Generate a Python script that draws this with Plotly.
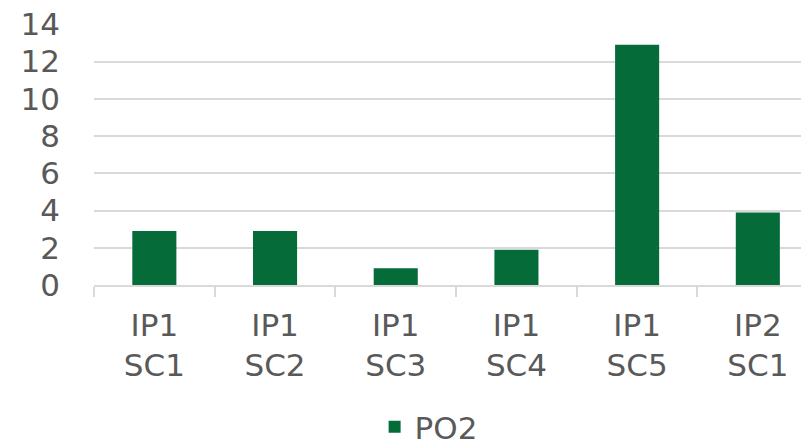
import plotly.graph_objects as go

categories = ["IP1<br>SC1", "IP1<br>SC2", "IP1<br>SC3", "IP1<br>SC4", "IP1<br>SC5", "IP2<br>SC1"]
po2_values = [2.9, 2.9, 0.9, 1.9, 12.9, 3.9]
y_ticks = [0, 2, 4, 6, 8, 10, 12, 14]

GREEN = "#056B38"
TEXT = "#595959"
GRID = "#D9D9D9"
FONT = "DejaVu Sans, Verdana, sans-serif"
FS = 31

fig = go.Figure()
fig.add_trace(go.Bar(
    x=categories, y=po2_values, name="PO2",
    marker=dict(color=GREEN, line=dict(width=0)),
    width=0.365,
))

# page body has an 8px default margin, so the figure is sized to fit inside
fig.update_layout(
    width=801, height=434,
    margin=dict(l=86, r=0, t=16, b=157, autoexpand=False),
    paper_bgcolor="white", plot_bgcolor="white",
    font=dict(family=FONT, size=FS, color=TEXT),
    showlegend=True,
    legend=dict(orientation="h", x=0.468, xanchor="center", y=-0.544, yanchor="middle",
                font=dict(size=FS, color=TEXT), bgcolor="rgba(0,0,0,0)"),
)
fig.update_xaxes(
    type="category", range=[-0.5, 5.424], automargin=False,
    showline=True, linecolor=GRID, linewidth=1.5,
    ticks="outside", tickson="boundaries", ticklen=10, tickcolor=GRID, tickwidth=1.5,
    showgrid=False, tickfont=dict(size=FS, color=TEXT), ticklabelstandoff=12,
)
fig.update_yaxes(
    range=[0, 14.02], tickvals=y_ticks, automargin=False,
    showgrid=True, gridcolor=GRID, gridwidth=1.5,
    zeroline=False, showline=False, ticks="",
    ticklabeloverflow="allow",
    ticklabelstandoff=33, tickfont=dict(size=FS, color=TEXT),
)

fig.write_html("out.html")
